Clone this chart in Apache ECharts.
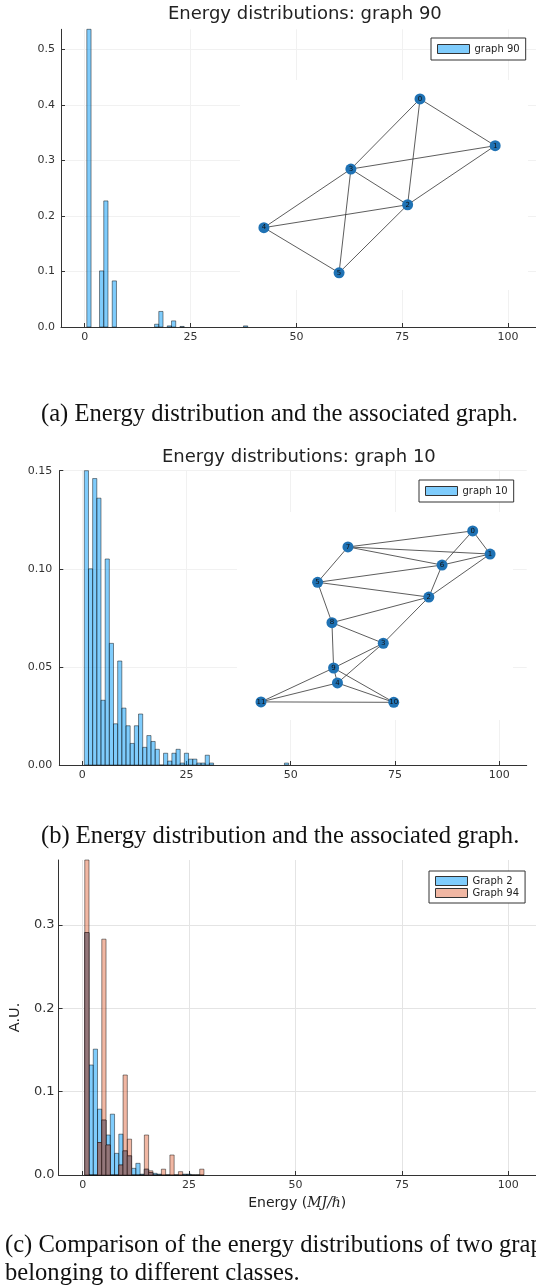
<!DOCTYPE html>
<html>
<head>
<meta charset="utf-8">
<script src="https://cdn.jsdelivr.net/npm/echarts@6/dist/echarts.min.js"></script>
<style>
  html, body { margin: 0; padding: 0; background: #fff; }
  #main { width: 536px; height: 1286px; }
</style>
</head>
<body>
<div id="main"></div>
<script>
// (a) graph 90 histogram, bins of width 1 centred on the integers
const aBins = [1, 4, 5, 7, 17, 18, 20, 21, 23, 38];
const aValues = [0.536, 0.101, 0.227, 0.083, 0.005, 0.028, 0.002, 0.011, 0.001, 0.002];
// (b) graph 10 histogram
const bBins = [1, 2, 3, 4, 5, 6, 7, 8, 9, 10, 11, 12, 13, 14, 15, 16, 17, 18, 19, 20,
  21, 22, 23, 24, 25, 26, 27, 28, 29, 30, 31, 49];
const bValues = [0.150, 0.100, 0.146, 0.136, 0.033, 0.105, 0.062, 0.021, 0.053, 0.029,
  0.020, 0.011, 0.020, 0.026, 0.009, 0.015, 0.012, 0.008, 0, 0.006,
  0.002, 0.006, 0.008, 0.001, 0.006, 0.003, 0.003, 0.001, 0.001, 0.005, 0.001, 0.001];
// (c) Graph 2 vs Graph 94
const cBins = [1, 2, 3, 4, 5, 6, 7, 8, 9, 10, 11, 12, 13, 14, 15, 16, 17, 18, 19, 20,
  21, 22, 23, 24, 25, 26, 27, 28];
const cGraph2 = [0.291, 0.132, 0.151, 0.079, 0.066, 0.048, 0.073, 0.026, 0.049, 0.029,
  0.023, 0.008, 0.014, 0.001, 0.007, 0.003, 0.002, 0.001, 0, 0,
  0, 0, 0, 0.001, 0.001, 0, 0, 0];
const cGraph94 = [0.378, 0, 0, 0.039, 0.283, 0.036, 0, 0, 0.012, 0.120,
  0.043, 0, 0, 0, 0.048, 0.005, 0, 0, 0.007, 0,
  0.024, 0, 0.004, 0, 0, 0, 0, 0.007];

const xTicks = [0, 25, 50, 75, 100];
const aYTicks = [0, 0.1, 0.2, 0.3, 0.4, 0.5];
const bYTicks = [0, 0.05, 0.10, 0.15];
const cYTicks = [0, 0.1, 0.2, 0.3];

// inset graphs: node layout (0..1 inside the inset box) and edges
const aNodeX = [0.625, 0.886, 0.582, 0.385, 0.083, 0.344];
const aNodeY = [0.910, 0.687, 0.406, 0.576, 0.297, 0.082];
const aEdges = [[0, 1], [0, 3], [0, 2], [1, 3], [1, 2], [3, 2], [3, 4], [3, 5], [4, 2], [4, 5], [5, 2]];
const bNodeX = [0.854, 0.917, 0.695, 0.530, 0.364, 0.292, 0.743, 0.402, 0.344, 0.350, 0.568, 0.087];
const bNodeY = [0.909, 0.798, 0.591, 0.369, 0.178, 0.662, 0.745, 0.832, 0.468, 0.250, 0.085, 0.087];
const bEdges = [[0, 7], [0, 6], [0, 1], [7, 1], [7, 6], [7, 5], [6, 1], [6, 5], [6, 2], [1, 2],
  [5, 2], [5, 8], [2, 8], [2, 3], [8, 3], [8, 9], [3, 9], [3, 4], [9, 4], [9, 11],
  [9, 10], [4, 11], [4, 10], [11, 10]];

const SANS = 'DejaVu Sans';
const SERIF = 'Liberation Serif';
const blueFill = 'rgba(0,154,250,0.5)';
const orangeFill = 'rgba(227,111,71,0.5)';
const edge = 'rgba(0,0,0,0.45)';

function histRender(fill) {
  return function (params, api) {
    const c = api.value(0), h = api.value(1);
    const tl = api.coord([c - 0.5, h]);
    const br = api.coord([c + 0.5, 0]);
    return {
      type: 'rect',
      shape: { x: tl[0], y: tl[1], width: br[0] - tl[0], height: br[1] - tl[1] },
      style: { fill: fill, stroke: edge, lineWidth: 1 }
    };
  };
}

// orange bars drawn over the blue ones, overlap shows darker
function overlapRender(params, api) {
  const c = api.value(0), h = api.value(1), other = api.value(2);
  const tl = api.coord([c - 0.5, h]);
  const br = api.coord([c + 0.5, 0]);
  const children = [{
    type: 'rect',
    shape: { x: tl[0], y: tl[1], width: br[0] - tl[0], height: br[1] - tl[1] },
    style: { fill: orangeFill, stroke: edge, lineWidth: 1 }
  }];
  const m = Math.min(h, other);
  if (m > 0) {
    const t2 = api.coord([c - 0.5, m]);
    children.push({
      type: 'rect',
      shape: { x: t2[0], y: t2[1], width: br[0] - t2[0], height: br[1] - t2[1] },
      style: { fill: '#94777a', stroke: 'rgba(40,20,20,0.55)', lineWidth: 1 }
    });
  }
  return { type: 'group', children: children };
}

function pairs(xs, ys) {
  return xs.map((x, i) => [x, ys[i]]);
}

function mainX(gridIndex, min, max, gridColor, fontSize, extra) {
  return Object.assign({
    type: 'value', gridIndex: gridIndex, min: min, max: max,
    axisLine: { show: true, onZero: false, lineStyle: { color: '#333', width: 1 } },
    axisTick: { show: true, inside: true, length: 4, customValues: xTicks, lineStyle: { color: '#333' } },
    axisLabel: { customValues: xTicks, fontFamily: SANS, fontSize: fontSize, color: '#333', margin: 5 },
    splitLine: { show: true, lineStyle: { color: gridColor, width: 1 } }
  }, extra || {});
}

function mainY(gridIndex, max, ticks, digits, gridColor, fontSize, margin, extra) {
  return Object.assign({
    type: 'value', gridIndex: gridIndex, min: 0, max: max,
    axisLine: { show: true, onZero: false, lineStyle: { color: '#333', width: 1 } },
    axisTick: { show: true, inside: true, length: 4, customValues: ticks, lineStyle: { color: '#333' } },
    axisLabel: {
      customValues: ticks, fontFamily: SANS, fontSize: fontSize, color: '#333', margin: margin,
      formatter: v => v.toFixed(digits)
    },
    splitLine: { show: true, lineStyle: { color: gridColor, width: 1 } }
  }, extra || {});
}

function insetAxis(gridIndex) {
  return { type: 'value', gridIndex: gridIndex, min: 0, max: 1, show: false };
}

function graphSeries(axisIndex, xs, ys, edges, size) {
  return {
    type: 'graph', coordinateSystem: 'cartesian2d',
    xAxisIndex: axisIndex, yAxisIndex: axisIndex,
    layout: 'none', symbolSize: size, silent: true, z: 3,
    itemStyle: { color: '#1f72b4' },
    label: { show: true, position: 'inside', formatter: '{b}', fontFamily: SANS, fontSize: 7, color: '#111' },
    lineStyle: { color: '#333', width: 0.8, opacity: 1 },
    data: xs.map((x, i) => ({ name: String(i), value: [x, ys[i]] })),
    links: edges.map(e => ({ source: e[0], target: e[1] }))
  };
}

function legendBox(left, top, names, fills, padding) {
  return {
    left: left, top: top, orient: 'vertical', backgroundColor: '#fff',
    borderColor: '#333', borderWidth: 1, borderRadius: 0, padding: padding,
    itemWidth: 32, itemHeight: 9, itemGap: 2, icon: 'rect',
    textStyle: { fontFamily: SANS, fontSize: 10, color: '#222' },
    data: names.map((n, i) => ({
      name: n, icon: 'rect',
      itemStyle: { color: fills[i], borderColor: '#333', borderWidth: 1 }
    })),
    selectedMode: false
  };
}

const chart = echarts.init(document.getElementById('main'));

const option = {
  animation: false,
  backgroundColor: '#fff',
  title: [
    { text: 'Energy distributions: graph 90', left: 163, top: 0,
      textStyle: { fontFamily: SANS, fontSize: 18, fontWeight: 'normal', color: '#222' } },
    { text: 'Energy distributions: graph 10', left: 157, top: 443,
      textStyle: { fontFamily: SANS, fontSize: 18, fontWeight: 'normal', color: '#222' } },
    { text: '(a) Energy distribution and the associated graph.', left: 36, top: 397,
      textStyle: { fontFamily: SERIF, fontSize: 24.6, fontWeight: 'normal', color: '#111' } },
    { text: '(b) Energy distribution and the associated graph.', left: 36, top: 819,
      textStyle: { fontFamily: SERIF, fontSize: 24.6, fontWeight: 'normal', color: '#111' } },
    { text: '(c) Comparison of the energy distributions of two graphs\nbelonging to different classes.', left: 0, top: 1227,
      textStyle: { fontFamily: SERIF, fontSize: 24.6, fontWeight: 'normal', color: '#111', lineHeight: 28 } }
  ],
  legend: [
    legendBox(431, 38, ['graph 90'], [blueFill], [6, 6]),
    legendBox(419, 480, ['graph 10'], [blueFill], [6, 6]),
    legendBox(429, 871, ['Graph 2', 'Graph 94'], [blueFill, orangeFill], [5, 6])
  ],
  grid: [
    { left: 61, top: 29.3, width: 479, height: 297.7, containLabel: false },
    { left: 240, top: 80, width: 288, height: 210, show: true, backgroundColor: '#fff', borderWidth: 0, z: 1 },
    { left: 59.3, top: 470.7, width: 467.4, height: 294.3, containLabel: false },
    { left: 237, top: 512, width: 276, height: 208, show: true, backgroundColor: '#fff', borderWidth: 0, z: 1 },
    { left: 56, top: 860, width: 486, height: 315, containLabel: false }
  ],
  xAxis: [
    mainX(0, -5.6, 106.6, '#f1f1f1', 11),
    insetAxis(1),
    mainX(2, -5.5, 106.6, '#f1f1f1', 11),
    insetAxis(3),
    mainX(4, -5.65, 106.5, '#e4e4e4', 11, {
      name: 'Energy ({i|MJ/ℏ})', nameLocation: 'middle', nameGap: 21,
      nameTextStyle: { fontFamily: SANS, fontSize: 14, color: '#222',
        rich: { i: { fontFamily: 'DejaVu Serif', fontStyle: 'italic', fontSize: 14, color: '#222' } } }
    })
  ],
  yAxis: [
    mainY(0, 0.536, aYTicks, 1, '#f1f1f1', 11, 6),
    insetAxis(1),
    mainY(2, 0.15, bYTicks, 2, '#f1f1f1', 11, 7),
    insetAxis(3),
    mainY(4, 0.378, cYTicks, 1, '#e4e4e4', 13, 4, {
      name: 'A.U.', nameLocation: 'middle', nameRotate: 90, nameGap: 31,
      nameTextStyle: { fontFamily: SANS, fontSize: 14.5, color: '#222' }
    })
  ],
  series: [
    { name: 'graph 90', type: 'custom', xAxisIndex: 0, yAxisIndex: 0, z: 2,
      itemStyle: { color: blueFill }, renderItem: histRender(blueFill),
      data: pairs(aBins, aValues) },
    graphSeries(1, aNodeX, aNodeY, aEdges, 11),
    { name: 'graph 10', type: 'custom', xAxisIndex: 2, yAxisIndex: 2, z: 2,
      itemStyle: { color: blueFill }, renderItem: histRender(blueFill),
      data: pairs(bBins, bValues) },
    graphSeries(3, bNodeX, bNodeY, bEdges, 11),
    { name: 'Graph 2', type: 'custom', xAxisIndex: 4, yAxisIndex: 4, z: 2,
      itemStyle: { color: blueFill }, renderItem: histRender(blueFill),
      data: pairs(cBins, cGraph2) },
    { name: 'Graph 94', type: 'custom', xAxisIndex: 4, yAxisIndex: 4, z: 2,
      itemStyle: { color: orangeFill }, renderItem: overlapRender,
      data: cBins.map((b, i) => [b, cGraph94[i], cGraph2[i]]) }
  ]
};

chart.setOption(option);
</script>
</body>
</html>
